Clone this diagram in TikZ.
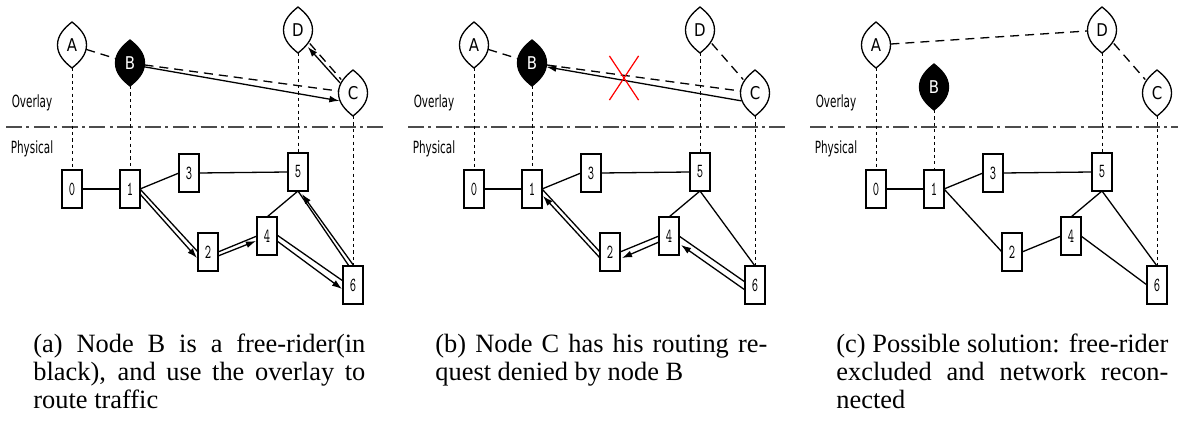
\documentclass[tikz,border=0pt]{standalone}
\usepackage{fontspec}
\setmainfont{Liberation Serif}
\newfontfamily\labfont[FakeStretch=0.62]{DejaVu Sans}
\newfontfamily\letfont[FakeStretch=0.85]{DejaVu Sans}
\newfontfamily\digfont[FakeStretch=0.6]{lmmono10-regular.otf}
\usetikzlibrary{shapes.geometric,shapes.misc,arrows.meta}
\newcommand\leafat[3]{\draw[leafline,fill=#3,shift={(#1,#2)}] (0,-23) .. controls (7.5,-17) and (14.5,-10) .. (14.5,0) .. controls (14.5,10) and (7.5,17) .. (0,23) .. controls (-7.5,17) and (-14.5,10) .. (-14.5,0) .. controls (-14.5,-10) and (-7.5,-17) .. (0,-23) -- cycle;}
\begin{document}
\begin{tikzpicture}[x=0.5pt,y=-0.5pt,
  leafline/.style={line width=0.65pt},
  leaf/.style={ellipse,minimum width=14.5pt,minimum height=23pt,inner sep=0pt,outer sep=0pt,font=\letfont\fontsize{8.8pt}{9pt}\selectfont},
  pbox/.style={draw,line width=0.75pt,minimum width=10pt,minimum height=19pt,inner sep=0pt,outer sep=0pt,font=\digfont\fontsize{10pt}{10pt}\selectfont},
  link/.style={line width=0.65pt},
  route/.style={line width=0.65pt,-{Latex[length=5pt,width=3.4pt]}},
  ovl/.style={line width=0.65pt,dash pattern=on 4.5pt off 3pt},
  vdot/.style={line width=0.5pt,dash pattern=on 1.6pt off 1.6pt},
  divline/.style={line width=0.75pt,draw=black!70,dash pattern=on 8pt off 2.2pt on 1.5pt off 2.2pt},
  layerlbl/.style={font=\labfont\fontsize{8.4pt}{9pt}\selectfont,inner sep=0pt},
  subcap/.style={anchor=north west,inner sep=0pt,text width=166pt,align=justify,font=\fontsize{13.2pt}{14pt}\selectfont}
]
\useasboundingbox (0,0) rectangle (1178,443);
\fill[white] (0,0) rectangle (1178,443);

\foreach \p/\ox/\by in {a/0/63,b/402/63,c/804/87}{
\begin{scope}[shift={(\ox,0)}]
  \draw[divline] (6,127) -- (385,127);
  \node[layerlbl] (\p ov) at (32,103) {Overlay};
  \node[layerlbl] (\p ph) at (32,149) {Physical};
  \leafat{72}{45}{white}
  \node[leaf] (\p A) at (72,45) {A};
  \leafat{130}{\by}{black}
  \node[leaf,text=white] (\p B) at (130,\by) {B};
  \leafat{298}{30}{white}
  \node[leaf] (\p D) at (298,30) {D};
  \leafat{353}{93}{white}
  \node[leaf] (\p C) at (353,93) {C};
  \node[pbox] (\p 0) at (72,189) {0};
  \node[pbox] (\p 1) at (130,189) {1};
  \node[pbox] (\p 3) at (189,173) {3};
  \node[pbox] (\p 5) at (298,172) {5};
  \node[pbox] (\p 2) at (208,252) {2};
  \node[pbox] (\p 4) at (267,236) {4};
  \node[pbox] (\p 6) at (353,285) {6};
  \draw[vdot] (\p A.south) -- (\p 0.north);
  \draw[vdot] (\p B.south) -- (\p 1.north);
  \draw[vdot] (\p D.south) -- (\p 5.north);
  \draw[vdot] (\p C.south) -- (\p 6.north);
  \draw[link] (\p 0.east) -- (\p 1.west);
  \draw[link] (\p 1.east) -- (\p 3.west);
  \draw[link] (\p 3.east) -- (\p 5.west);
  \draw[link] (\p 4.north) -- (\p 5.south);
\end{scope}
}

% panel (a)
\draw[ovl] (aA) -- (aB);
\draw[ovl] (aB) -- (aC);
\draw[route] (aB.-15) -- (aC.210);
\draw[ovl] (aD) -- (aC);
\draw[route] (aC.142) -- (aD.-60);
\draw[link] (a1.east) -- (a2.west);
\draw[route] ([shift={(0,5)}]a1.east) -- ([shift={(-1,6)}]a2.west);
\draw[link] (a2.east) -- (a4.west);
\draw[route] ([shift={(0,4)}]a2.east) -- ([shift={(-1,5)}]a4.west);
\draw[link] ([shift={(0,-1)}]a4.east) -- ([shift={(0,-4)}]a6.west);
\draw[route] ([shift={(0,5)}]a4.east) -- ([shift={(-1,4)}]a6.west);
\draw[link] ([shift={(-4,0)}]a6.north) -- (a5.south);
\draw[route] ([shift={(1,0)}]a6.north) -- ([shift={(4,3)}]a5.south);

% panel (b)
\draw[ovl] (bA) -- (bB);
\draw[ovl] (bB) -- (bC);
\draw[route] (bC.210) -- (bB.-15);
\draw[ovl] (bD) -- (bC);
\node[cross out,draw=red,line width=0.6pt,minimum width=14pt,minimum height=21.5pt,inner sep=0pt] (bX) at (624,78) {};
\draw[link] (b1.east) -- (b2.west);
\draw[route] ([shift={(0,6)}]b2.west) -- ([shift={(1,7)}]b1.east);
\draw[link] (b2.east) -- (b4.west);
\draw[route] ([shift={(0,6)}]b4.west) -- ([shift={(2,6)}]b2.east);
\draw[link] (b4.east) -- ([shift={(0,-3)}]b6.west);
\draw[route] ([shift={(0,5)}]b6.west) -- ([shift={(2,9)}]b4.east);
\draw[link] (b5.south) -- (b6.north);

% panel (c)
\draw[ovl] (cA) -- (cD);
\draw[ovl] (cD) -- (cC);
\draw[link] (c1.east) -- (c2.west);
\draw[link] (c2.east) -- (c4.west);
\draw[link] (c4.east) -- (c6.west);
\draw[link] (c5.south) -- (c6.north);

% captions
\node[subcap] (capa) at (33,334) {(a) Node B is a free-rider(in\linebreak black), and use the overlay to\linebreak route traffic};
\node[subcap] (capb) at (435,334) {(b) Node C has his routing re-\linebreak quest denied by node B};
\node[subcap] (capc) at (836,334) {(c) Possible solution: free-rider\linebreak excluded and network recon-\linebreak nected};
\end{tikzpicture}
\end{document}
